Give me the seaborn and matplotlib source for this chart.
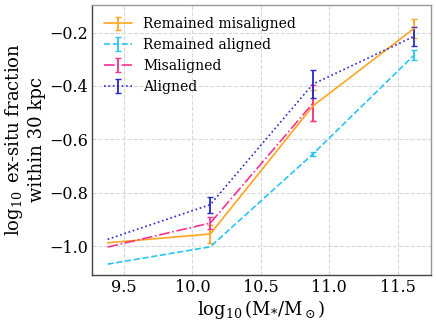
import matplotlib

matplotlib.use("Agg")
import matplotlib.pyplot as plt
import numpy as np
import seaborn as sns

# stellar mass bins, log10(M*/Msun)
mass = [9.38, 10.13, 10.88, 11.62]

# log10 ex-situ fraction within 30 kpc, with errors
remained_misaligned = [-0.988, -0.955, -0.475, -0.184]
remained_misaligned_err = [0.0, 0.034, 0.058, 0.036]
remained_aligned = [-1.068, -1.003, -0.655, -0.284]
remained_aligned_err = [0.0, 0.0, 0.008, 0.019]
misaligned = [-1.004, -0.914, -0.465, np.nan]
misaligned_err = [0.0, 0.024, 0.068, np.nan]
aligned = [-0.975, -0.845, -0.393, -0.214]
aligned_err = [0.0, 0.030, 0.053, 0.035]

labels = ["Remained misaligned", "Remained aligned", "Misaligned", "Aligned"]
colors = ["#FFA51F", "#2BC3F2", "#F6338F", "#2727CF"]
styles = ["-", "--", "-.", ":"]

sns.set_theme(style="whitegrid")
plt.rcParams["font.family"] = ["DejaVu Serif"]
plt.rcParams["mathtext.fontset"] = "dejavuserif"
plt.rcParams["text.color"] = "black"
plt.rcParams["axes.labelcolor"] = "black"
plt.rcParams["xtick.color"] = "black"
plt.rcParams["ytick.color"] = "black"

fig, ax = plt.subplots(figsize=(4.36, 3.24), dpi=100)
fig.subplots_adjust(left=0.211, right=0.989, top=0.985, bottom=0.151)

series = [
    (remained_misaligned, remained_misaligned_err),
    (remained_aligned, remained_aligned_err),
    (misaligned, misaligned_err),
    (aligned, aligned_err),
]
for (vals, errs), lab, col, ls in zip(series, labels, colors, styles):
    yerr = [e if e > 0 else np.nan for e in errs]
    ax.errorbar(
        mass, vals, yerr=yerr, color=col, ls=ls, lw=1.2,
        capsize=2.5, elinewidth=1.3, label=lab,
    )

ax.set_xlim(9.266, 11.744)
ax.set_ylim(-1.109, -0.096)
ax.set_xticks([9.5, 10.0, 10.5, 11.0, 11.5])
ax.set_yticks([-1.0, -0.8, -0.6, -0.4, -0.2])
ax.tick_params(labelsize=11.5, length=0, pad=3)
ax.grid(True, ls="--", color="#D8D8D8", lw=0.8)
for side in ["top", "right"]:
    ax.spines[side].set_color("#999999")
for side in ["left", "bottom"]:
    ax.spines[side].set_color("#444444")
for s in ax.spines.values():
    s.set_linewidth(1.0)

ax.set_xlabel(r"$\log_{10}(\mathrm{M_{*}/M_\odot})$", fontsize=13, labelpad=1)
ax.set_ylabel(r"$\log_{10}$ ex-situ fraction" + "\nwithin 30 kpc", fontsize=13, labelpad=2)

ax.legend(loc="upper left", frameon=False, fontsize=10, borderaxespad=0.5,
          labelspacing=0.5)

plt.savefig("out.png", dpi=100)
